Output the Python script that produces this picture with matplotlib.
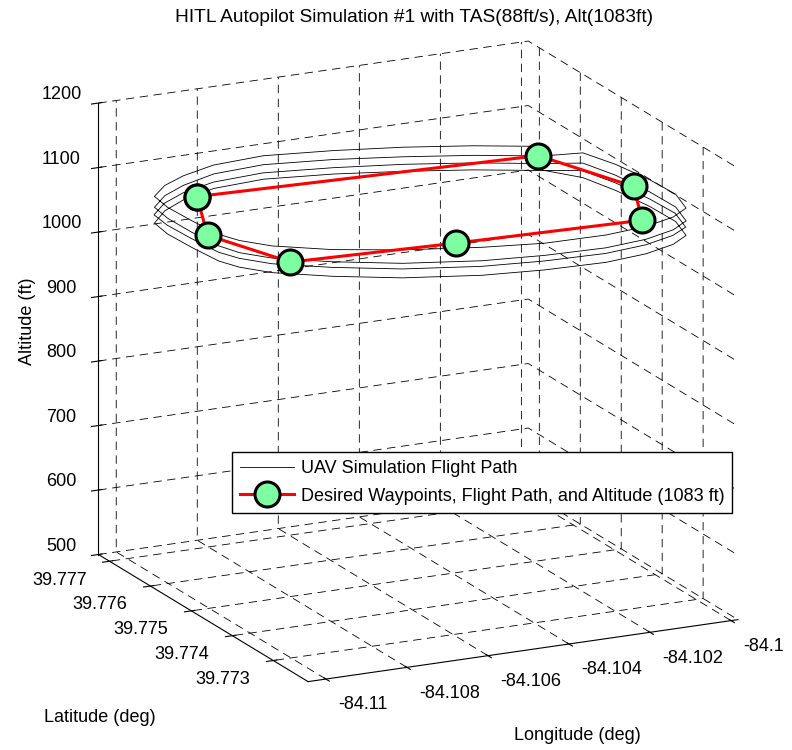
import matplotlib
matplotlib.use("Agg")
import matplotlib.pyplot as plt

plt.rcParams["font.family"] = ["Liberation Sans", "DejaVu Sans"]
plt.rcParams["lines.scale_dashes"] = False

# Desired waypoint course (closed loop back to the first waypoint)
wp_lon = [-84.10907, -84.11013, -84.10936, -84.10543, -84.10097, -84.10003, -84.10092, -84.10907]
wp_lat = [39.77622, 39.77491, 39.77365, 39.77349, 39.77336, 39.77450, 39.77595, 39.77622]
wp_alt = [1083, 1083, 1083, 1083, 1083, 1083, 1083, 1083]

# Simulated UAV track, four laps flown around the course
lap1_lon = [-84.10071, -84.10204, -84.10350, -84.10496, -84.10655, -84.10787, -84.10887, -84.10962,
            -84.11025, -84.11037, -84.11035, -84.11028, -84.11009, -84.10964, -84.10854, -84.10717,
            -84.10552, -84.10412, -84.10260, -84.10154, -84.10067, -84.10012, -84.09985, -84.09985,
            -84.09996, -84.10017]
lap1_lat = [39.77604, 39.77643, 39.77669, 39.77695, 39.77709, 39.77700, 39.77675, 39.77646,
            39.77609, 39.77565, 39.77509, 39.77449, 39.77417, 39.77382, 39.77344, 39.77308,
            39.77277, 39.77263, 39.77263, 39.77270, 39.77290, 39.77313, 39.77365, 39.77429,
            39.77501, 39.77560]
lap1_alt = [1092, 1090, 1091, 1089, 1090, 1091, 1093, 1096, 1099, 1100, 1101, 1102, 1103,
            1104, 1103, 1104, 1105, 1104, 1103, 1104, 1103, 1103, 1102, 1100, 1097, 1094]

lap2_lon = [-84.10077, -84.10210, -84.10356, -84.10502, -84.10661, -84.10793, -84.10893, -84.10968,
            -84.11031, -84.11043, -84.11041, -84.11034, -84.11015, -84.10970, -84.10860, -84.10723,
            -84.10558, -84.10418, -84.10266, -84.10160, -84.10073, -84.10018, -84.09991, -84.09991,
            -84.10002, -84.10023]
lap2_lat = [39.77598, 39.77637, 39.77663, 39.77689, 39.77703, 39.77694, 39.77669, 39.77640,
            39.77603, 39.77559, 39.77503, 39.77443, 39.77411, 39.77376, 39.77338, 39.77302,
            39.77271, 39.77257, 39.77257, 39.77264, 39.77284, 39.77307, 39.77359, 39.77423,
            39.77495, 39.77554]
lap2_alt = [1080, 1078, 1079, 1078, 1079, 1080, 1081, 1083, 1085, 1086, 1086, 1087, 1087,
            1088, 1087, 1086, 1087, 1088, 1086, 1087, 1086, 1086, 1085, 1084, 1083, 1081]

lap3_lon = [-84.10073, -84.10206, -84.10352, -84.10498, -84.10657, -84.10789, -84.10889, -84.10964,
            -84.11027, -84.11039, -84.11037, -84.11030, -84.11011, -84.10966, -84.10856, -84.10719,
            -84.10554, -84.10414, -84.10262, -84.10156, -84.10069, -84.10014, -84.09987, -84.09987,
            -84.09998, -84.10019]
lap3_lat = [39.77603, 39.77642, 39.77668, 39.77694, 39.77708, 39.77699, 39.77674, 39.77645,
            39.77608, 39.77564, 39.77508, 39.77448, 39.77416, 39.77381, 39.77343, 39.77307,
            39.77276, 39.77262, 39.77262, 39.77269, 39.77289, 39.77312, 39.77364, 39.77428,
            39.77500, 39.77559]
lap3_alt = [1066, 1064, 1065, 1063, 1064, 1065, 1067, 1069, 1071, 1073, 1074, 1075, 1076,
            1077, 1076, 1075, 1076, 1077, 1075, 1076, 1075, 1074, 1073, 1071, 1069, 1067]

lap4_lon = [-84.10076, -84.10209, -84.10355, -84.10501, -84.10660, -84.10792, -84.10892, -84.10967,
            -84.11030, -84.11042, -84.11040, -84.11033, -84.11014, -84.10969, -84.10859, -84.10722,
            -84.10557, -84.10417, -84.10265, -84.10159, -84.10072, -84.10017, -84.09990, -84.09990,
            -84.10001, -84.10022, -84.10075]
lap4_lat = [39.77599, 39.77638, 39.77664, 39.77690, 39.77704, 39.77695, 39.77670, 39.77641,
            39.77604, 39.77560, 39.77504, 39.77444, 39.77412, 39.77377, 39.77339, 39.77303,
            39.77272, 39.77258, 39.77258, 39.77265, 39.77285, 39.77308, 39.77360, 39.77424,
            39.77496, 39.77555, 39.77600]
lap4_alt = [1057, 1055, 1056, 1055, 1056, 1057, 1058, 1059, 1060, 1061, 1062, 1063, 1064,
            1065, 1064, 1063, 1064, 1065, 1063, 1064, 1063, 1063, 1062, 1061, 1059, 1058, 1057]

lon_lim = [-84.11044, -84.09983]
lat_lim = [39.77215, 39.77727]
alt_lim = [500, 1200]

lon_ticks = [-84.11, -84.108, -84.106, -84.104, -84.102, -84.1]
lon_tick_labels = ["-84.11", "-84.108", "-84.106", "-84.104", "-84.102", "-84.1"]
lat_ticks = [39.773, 39.774, 39.775, 39.776, 39.777]
lat_tick_labels = ["39.773", "39.774", "39.775", "39.776", "39.777"]
alt_ticks = [500, 600, 700, 800, 900, 1000, 1100, 1200]

track_lon = lap1_lon + lap2_lon + lap3_lon + lap4_lon
track_lat = lap1_lat + lap2_lat + lap3_lat + lap4_lat
track_alt = lap1_alt + lap2_alt + lap3_alt + lap4_alt

fig = plt.figure(figsize=(7.92, 7.5), dpi=100, facecolor="white")
ax = fig.add_axes([0.0152, 0.0047, 1.0, 1.0], projection="3d", proj_type="ortho")
ax.set_box_aspect((1.012, 1.012, 1), zoom=1.068)
ax.view_init(elev=17.2, azim=-116)

ax.plot(track_lon, track_lat, track_alt, color="k", lw=0.6,
        label="UAV Simulation Flight Path")
ax.plot(wp_lon, wp_lat, wp_alt, color="red", lw=2.2, marker="o", ms=18,
        mfc=(0.49, 1.0, 0.63), mec="k", mew=2.2,
        label="Desired Waypoints, Flight Path, and Altitude (1083 ft)")

ax.set_xlim(lon_lim)
ax.set_ylim(lat_lim)
ax.set_zlim(alt_lim)
ax.set_xticks(lon_ticks)
ax.set_xticklabels(lon_tick_labels)
ax.set_yticks(lat_ticks)
ax.set_yticklabels(lat_tick_labels)
ax.set_zticks(alt_ticks)
ax.set_zticklabels([str(t) for t in alt_ticks])
ax.tick_params(labelsize=13, colors="k")
ax.xaxis.set_tick_params(pad=8.7)
ax.yaxis.set_tick_params(pad=7.0)
ax.zaxis.set_tick_params(pad=8.3)
for lbl in ax.get_xticklabels():
    lbl.set_horizontalalignment("left")
    lbl.set_verticalalignment("bottom")
for lbl in ax.get_yticklabels():
    lbl.set_horizontalalignment("right")
    lbl.set_verticalalignment("bottom")
for lbl in ax.get_zticklabels():
    lbl.set_verticalalignment("baseline")

for axis in (ax.xaxis, ax.yaxis, ax.zaxis):
    axis.pane.fill = False
    axis.pane.set_edgecolor("none")
    axis._axinfo["grid"].update(color="k", linewidth=0.6, linestyle=(0, (6, 4)))
    axis.line.set_linewidth(0.8)
    axis.line.set_color("k")

ax.zaxis.set_rotate_label(False)
ax.set_zlabel("Altitude (ft)", fontsize=13, rotation=90, labelpad=10)
# Ground-axis titles sit horizontally below their axes
fig.text(100 / 792, 1 - 718 / 750, "Latitude (deg)", fontsize=13, ha="center", va="center")
fig.text(577 / 792, 1 - 735 / 750, "Longitude (deg)", fontsize=13, ha="center", va="center")

fig.suptitle("HITL Autopilot Simulation #1 with TAS(88ft/s), Alt(1083ft)",
             x=414 / 792, y=1 - 17 / 750, va="center", fontsize=13.8)

ax.legend(loc="upper left", bbox_to_anchor=(232 / 792, 1 - 452 / 750),
          bbox_transform=fig.transFigure, borderaxespad=0, fontsize=13,
          numpoints=1, fancybox=False, edgecolor="k", framealpha=1,
          handlelength=3.0, handletextpad=0.35, borderpad=0.45, labelspacing=0.58)

fig.savefig("out.png", dpi=100, facecolor="white")
